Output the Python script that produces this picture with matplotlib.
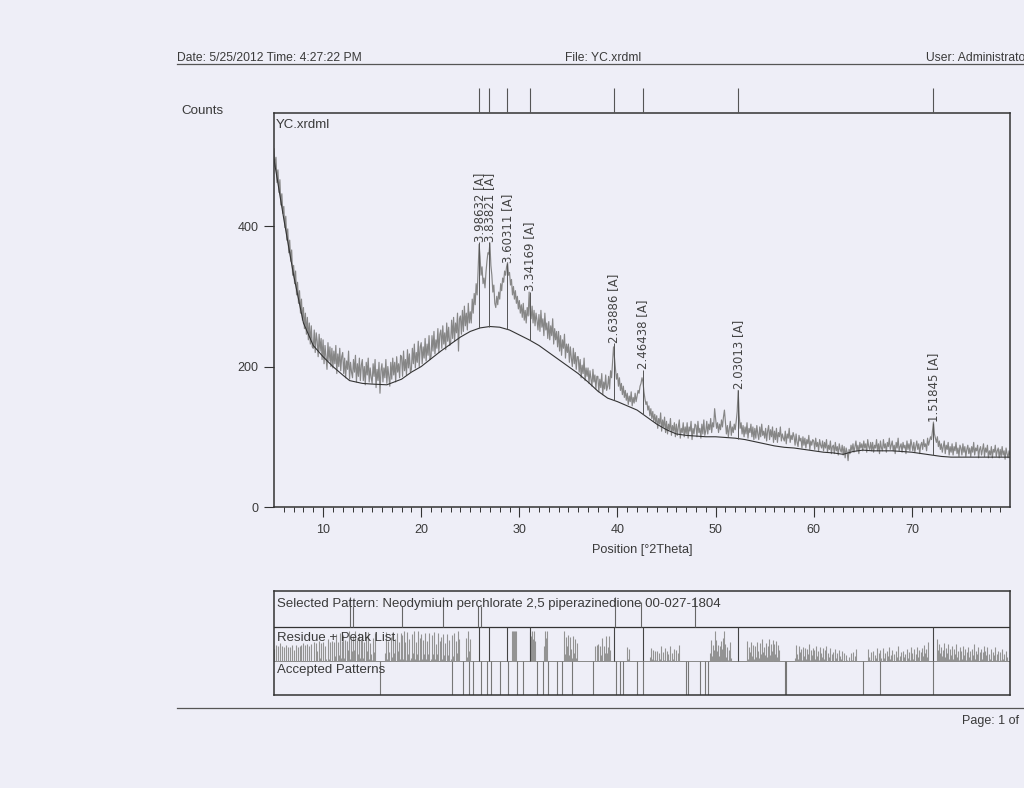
import numpy as np
import matplotlib.pyplot as plt

plt.rcParams['font.family'] = ['Liberation Sans', 'DejaVu Sans']

# --- scan: counts every 0.1 deg 2Theta, 5.0 .. 80.0 ---
two_theta = np.round(np.arange(5.0, 80.0001, 0.1), 1)
counts_rows = [
    [510, 484, 498, 462, 480, 448, 466, 430, 446, 418],  # 5
    [428, 398, 414, 380, 396, 362, 380, 350, 366, 330],
    [344, 318, 336, 302, 320, 290, 308, 276, 296, 266],
    [284, 254, 276, 246, 270, 238, 262, 232, 258, 228],
    [226, 252, 220, 248, 236, 214, 246, 222, 240, 210],
    [238, 204, 230, 212, 196, 234, 208, 228, 200, 226],  # 10
    [198, 222, 204, 230, 190, 218, 200, 226, 194, 214],
    [220, 190, 212, 184, 208, 196, 222, 182, 206, 192],
    [184, 210, 192, 216, 178, 204, 186, 212, 180, 202],
    [210, 180, 200, 174, 206, 188, 212, 178, 198, 184],
    [176, 204, 186, 210, 170, 196, 180, 206, 162, 194],  # 15
    [204, 178, 198, 184, 210, 176, 200, 186, 172, 206],
    [182, 212, 188, 206, 178, 214, 192, 204, 184, 216],
    [214, 186, 222, 194, 210, 188, 224, 198, 218, 192],
    [196, 226, 204, 232, 198, 220, 206, 236, 200, 228],
    [234, 204, 228, 212, 240, 208, 232, 216, 244, 210],  # 20
    [214, 244, 222, 250, 218, 238, 226, 254, 220, 246],
    [252, 226, 258, 232, 248, 224, 262, 236, 256, 230],
    [234, 266, 240, 270, 236, 262, 248, 276, 222, 268],
    [272, 246, 280, 250, 286, 258, 276, 252, 290, 262],
    [278, 262, 296, 276, 304, 288, 318, 302, 340, 374],  # 25
    [356, 330, 342, 318, 326, 312, 334, 350, 362, 360],
    [376, 344, 330, 306, 316, 290, 284, 300, 288, 306],
    [296, 318, 308, 326, 320, 336, 330, 342, 348, 330],
    [334, 316, 324, 302, 314, 296, 308, 290, 300, 282],
    [294, 276, 288, 270, 290, 266, 280, 262, 284, 272],  # 30
    [306, 274, 268, 286, 262, 280, 258, 276, 266, 252],
    [274, 250, 280, 256, 268, 244, 276, 252, 262, 240],
    [264, 238, 258, 244, 268, 232, 254, 238, 250, 228],
    [250, 222, 244, 216, 238, 226, 246, 212, 232, 220],
    [232, 206, 228, 212, 200, 226, 204, 220, 196, 214],  # 35
    [214, 192, 210, 184, 202, 190, 212, 180, 198, 186],
    [198, 176, 194, 182, 172, 196, 178, 188, 168, 186],
    [186, 164, 182, 170, 190, 160, 178, 168, 188, 166],
    [172, 186, 168, 194, 184, 206, 228, 212, 196, 182],
    [190, 172, 184, 166, 176, 160, 172, 156, 166, 152],  # 40
    [162, 146, 158, 150, 164, 144, 156, 148, 162, 150],
    [158, 166, 162, 172, 176, 184, 178, 164, 154, 146],
    [150, 138, 144, 130, 140, 126, 136, 122, 132, 120],
    [130, 112, 126, 118, 134, 108, 124, 114, 128, 106],
    [122, 104, 118, 110, 126, 102, 116, 108, 120, 100],  # 45
    [118, 102, 114, 124, 98, 112, 106, 120, 100, 114],
    [104, 120, 98, 114, 108, 122, 96, 112, 104, 118],
    [116, 100, 122, 106, 112, 98, 118, 104, 124, 102],
    [108, 122, 104, 118, 110, 126, 106, 120, 114, 140],
    [126, 112, 120, 106, 118, 110, 124, 114, 128, 138],  # 50
    [120, 104, 116, 100, 112, 122, 102, 114, 106, 118],
    [110, 122, 136, 166, 132, 112, 120, 104, 116, 100],
    [114, 104, 120, 98, 112, 106, 118, 100, 114, 96],
    [112, 98, 116, 104, 96, 114, 100, 118, 102, 108],
    [98, 112, 94, 108, 116, 96, 110, 100, 114, 92],      # 55
    [108, 96, 112, 92, 106, 100, 114, 94, 104, 98],
    [94, 108, 90, 104, 98, 112, 92, 102, 96, 106],
    [100, 88, 104, 92, 86, 102, 94, 98, 84, 100],
    [88, 98, 84, 96, 90, 102, 82, 94, 88, 96],
    [94, 82, 98, 86, 92, 80, 96, 88, 84, 94],            # 60
    [80, 92, 84, 96, 78, 88, 82, 94, 76, 86],
    [88, 76, 92, 80, 86, 74, 90, 82, 78, 88],
    [74, 86, 70, 84, 78, 66, 82, 76, 88, 80],
    [90, 78, 86, 94, 80, 88, 76, 92, 84, 90],
    [80, 94, 84, 90, 78, 96, 86, 82, 92, 80],            # 65
    [92, 78, 88, 84, 96, 80, 90, 76, 94, 84],
    [80, 96, 84, 90, 78, 92, 86, 98, 82, 88],
    [94, 80, 88, 76, 92, 84, 98, 80, 86, 90],
    [78, 92, 84, 88, 76, 94, 82, 90, 80, 96],
    [88, 80, 92, 78, 86, 94, 82, 90, 76, 88],            # 70
    [92, 82, 96, 86, 90, 80, 98, 88, 94, 100],
    [96, 108, 121, 104, 98, 92, 100, 86, 94, 82],
    [90, 78, 86, 94, 76, 88, 82, 92, 74, 86],
    [78, 90, 74, 86, 80, 92, 76, 84, 72, 88],
    [84, 74, 90, 78, 86, 72, 82, 88, 76, 84],            # 75
    [72, 86, 78, 92, 74, 84, 80, 88, 70, 82],
    [86, 74, 82, 90, 72, 84, 78, 88, 70, 80],
    [74, 86, 70, 82, 78, 88, 72, 80, 84, 70],
    [82, 72, 86, 74, 80, 68, 84, 76, 70, 80],
    [74],                                                # 80
]
counts = np.array([v for row in counts_rows for v in row], dtype=float)

# background curve
bg_x = [5, 6, 7, 8, 9, 10, 11, 12, 12.7, 14, 15, 16.5, 18, 19, 20, 21, 22, 23, 24, 25,
        26, 27, 28, 29, 30, 31, 32, 33, 34, 35, 36, 37, 38, 39, 40, 41, 42, 43, 44, 45,
        46, 47, 48, 49, 50, 51, 52, 53, 54, 55, 56, 57, 58, 59, 60, 61, 62, 63, 64, 65,
        66, 67, 68, 69, 70, 71, 72, 73, 74, 75, 80]
bg_y = [495, 410, 330, 262, 230, 214, 200, 188, 180, 176, 175, 174, 182, 192, 200, 211, 222, 232, 242, 250,
        255, 257, 256, 252, 245, 238, 230, 220, 210, 200, 190, 178, 165, 155, 150, 144, 138, 128, 118, 110,
        104, 102, 101, 100, 100, 99, 98, 96, 93, 90, 87, 85, 84, 82, 80, 78, 77, 75, 79, 81,
        80, 80, 80, 79, 78, 76, 74, 72, 71, 71, 71]

# peak list
peak_pos = [25.94, 26.95, 28.75, 31.05, 39.63, 42.57, 52.29, 72.18]
peak_top = [377, 377, 347, 306, 233, 195, 167, 120]
peak_lbl = ['3.98632 [A]', '3.83821 [A]', '3.60311 [A]', '3.34169 [A]',
            '2.63886 [A]', '2.46438 [A]', '2.03013 [A]', '1.51845 [A]']

# selected reference pattern 00-027-1804 (relative intensity)
sel_pos = [12.74, 13.01, 18.0, 22.24, 25.8, 26.05, 39.72, 42.44, 47.87]
sel_int = [100, 70, 70, 100, 70, 70, 100, 85, 100]

# accepted patterns sticks
acc_pos = [15.79, 23.10, 24.28, 24.89, 25.30, 26.08, 26.66, 27.10, 28.01, 28.80,
           29.72, 30.39, 31.75, 32.42, 32.93, 33.79, 34.30, 35.32, 37.52, 39.90,
           40.23, 40.57, 42.04, 42.61, 47.03, 47.19, 48.38, 48.89, 49.23, 57.04,
           57.21, 65.01, 66.71, 72.14]

# where the residue trace shows up in the lower strip
res_spans = [(5.0, 15.3), (16.3, 23.9), (24.6, 25.0), (29.3, 29.7), (31.1, 31.6),
             (32.5, 32.8), (34.6, 35.9), (37.7, 39.2), (41.0, 41.2), (43.3, 46.3),
             (49.4, 51.6), (53.2, 56.5), (58.1, 64.4), (65.5, 71.6), (72.6, 79.7)]

W, H = 1024, 788
paper = '#eeeef7'
ink = '#3a3a3a'


def fx(px):
    return px / W


def fy(py):
    return 1 - py / H


fig = plt.figure(figsize=(W / 100, H / 100), dpi=100)
fig.patch.set_facecolor(paper)

# header / footer
fig.text(fx(177), fy(61), 'Date: 5/25/2012 Time: 4:27:22 PM', fontsize=8.75, color=ink)
fig.text(fx(603), fy(61), 'File: YC.xrdml', fontsize=8.75, color=ink, ha='center')
fig.text(fx(926), fy(61), 'User: Administrator', fontsize=8.75, color=ink)
fig.add_artist(plt.Line2D([fx(177), 1.0], [fy(64), fy(64)], color='#555555', lw=0.9))
fig.add_artist(plt.Line2D([fx(177), 1.0], [fy(708), fy(708)], color='#555555', lw=0.9))
fig.text(fx(962), fy(724), 'Page: 1 of', fontsize=9, color=ink)
fig.text(fx(181), fy(114), 'Counts', fontsize=9.6, color=ink)

# main pattern
ax = fig.add_axes([fx(274), fy(507), 736 / W, 394 / H])
ax.set_facecolor(paper)
ax.plot(two_theta, counts, color='#868686', lw=0.85)
ax.plot(bg_x, bg_y, color='#333333', lw=0.8)
bg_at_peak = np.interp(peak_pos, bg_x, bg_y)
ax.vlines(peak_pos, bg_at_peak, peak_top, color='#555555', lw=0.7)
for p, t, s in zip(peak_pos, peak_top, peak_lbl):
    ax.text(p, t + 1, s, rotation=90, ha='center', va='bottom', fontsize=8.5,
            family='DejaVu Sans', color='#444444')
ax.text(0.003, 0.985, 'YC.xrdml', transform=ax.transAxes, fontsize=9.5, color=ink,
        va='top', ha='left')
ax.set_xlim(5, 80)
ax.set_ylim(0, 561)
ax.set_xticks(range(10, 80, 10))
ax.set_xticks(range(6, 80), minor=True)
ax.set_yticks([0, 200, 400])
ax.tick_params(axis='both', which='major', direction='out', length=7, width=0.8,
               colors='#333333', labelsize=9, labelcolor=ink)
ax.tick_params(axis='x', which='minor', direction='out', length=3.5, width=0.7, colors='#333333')
ax.tick_params(axis='y', pad=4)
ax.tick_params(axis='x', pad=5)
for sp in ax.spines.values():
    sp.set_color('#333333')
    sp.set_linewidth(1.1)
ax.set_xlabel('Position [°2Theta]', fontsize=9.2, color=ink, labelpad=6)

# peak markers above the frame
axm = fig.add_axes([fx(274), fy(113), 736 / W, 25 / H])
axm.set_xlim(5, 80)
axm.set_ylim(0, 1)
axm.vlines(peak_pos, 0, 1, color='#555555', lw=0.8)
axm.axis('off')

# lower strip: selected pattern / residue + peak list / accepted patterns
axb = fig.add_axes([fx(274), fy(695), 736 / W, 104 / H])
axb.set_facecolor(paper)
axb.set_xlim(5, 80)
axb.set_ylim(0, 104)
axb.set_xticks([])
axb.set_yticks([])
for sp in axb.spines.values():
    sp.set_color('#333333')
    sp.set_linewidth(1.1)
axb.axhline(68, color='#333333', lw=0.9)
axb.axhline(34, color='#888888', lw=0.7)

sel_h = np.array(sel_int) / 100 * 30
axb.vlines(sel_pos, 68, 68 + sel_h, color='#666666', lw=0.8)

bg_on_grid = np.interp(two_theta, bg_x, bg_y)
resid = np.clip(counts - bg_on_grid, 0, None) * 0.8
resid = np.minimum(resid, 30)
show = np.zeros_like(resid, dtype=bool)
for a, b in res_spans:
    show |= (two_theta >= a) & (two_theta <= b)
axb.vlines(two_theta[show], 34, 34 + resid[show], color='#939393', lw=0.8)
axb.vlines(peak_pos, 34, 68, color='#444444', lw=0.8)

axb.vlines(acc_pos, 0, 34, color='#777777', lw=0.8)

axb.text(5.3, 97, 'Selected Pattern: Neodymium perchlorate 2,5 piperazinedione 00-027-1804',
         fontsize=9.5, color=ink, va='top')
axb.text(5.3, 63, 'Residue + Peak List', fontsize=9.5, color=ink, va='top')
axb.text(5.3, 31, 'Accepted Patterns', fontsize=9.5, color=ink, va='top')

fig.savefig('out.png', dpi=100, facecolor=fig.get_facecolor())
